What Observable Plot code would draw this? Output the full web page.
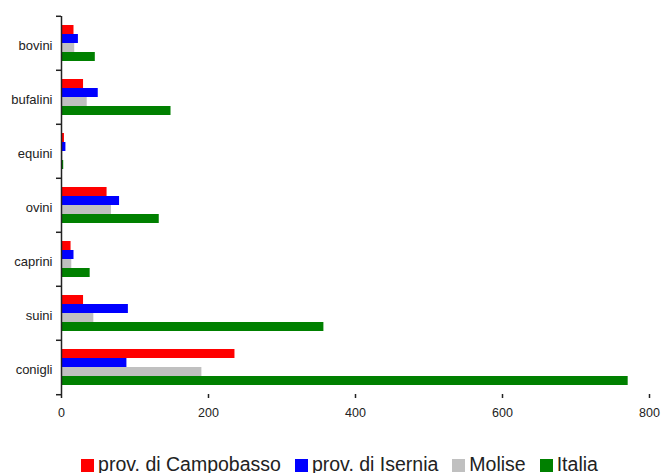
<!DOCTYPE html>
<html>
<head>
<meta charset="utf-8">
<script src="https://cdn.jsdelivr.net/npm/d3@7"></script>
<script src="https://cdn.jsdelivr.net/npm/@observablehq/plot@0.6"></script>
<style>
  html, body { margin: 0; padding: 0; background: #fff; }
  body { width: 663px; height: 473px; overflow: hidden; font-family: "Liberation Sans", Arial, sans-serif; }
  #chart svg { display: block; }
  #legend { display: flex; justify-content: center; align-items: center; padding-left: 16px; margin-top: 15px; height: 18px; font-size: 19.5px; color: #222; white-space: nowrap; }
  #legend .item { display: flex; align-items: center; margin: 0 7px; }
  #legend .sw { width: 13px; height: 13px; margin-right: 4px; margin-top: 3px; }
</style>
</head>
<body>
<div id="chart"></div>
<div id="legend"></div>
<script>
const categories = ["bovini", "bufalini", "equini", "ovini", "caprini", "suini", "conigli"];
const seriesNames = ["prov. di Campobasso", "prov. di Isernia", "Molise", "Italia"];
const seriesColors = ["#ff0000", "#0000ff", "#c0c0c0", "#008000"];
const campobasso = [17, 30, 4, 62, 13, 30, 236];
const isernia = [23, 50, 6, 79, 17, 91, 89];
const molise = [18, 35, 2, 68, 14, 44, 191];
const italia = [46, 149, 3, 133, 39, 357, 771];
const xTicks = [0, 200, 400, 600, 800];

const seriesValues = [campobasso, isernia, molise, italia];
const data = [];
categories.forEach((c, i) => {
  seriesNames.forEach((s, j) => data.push({category: c, series: s, value: seriesValues[j][i]}));
});

const W = 663, H = 440, mt = 14, mb = 45, ml = 61, mr = 14;
const step = (H - mt - mb) / categories.length;
const axisColor = "#222";

const chart = Plot.plot({
  width: W,
  height: H,
  marginTop: mt,
  marginBottom: mb,
  marginLeft: ml,
  marginRight: mr,
  style: {fontFamily: "'Liberation Sans', Arial, sans-serif", color: "#222", background: "#fff"},
  x: {domain: [0, 800], label: null},
  y: {domain: seriesNames, padding: 0, paddingOuter: 0.79, axis: null, label: null},
  fy: {domain: categories, padding: 0, axis: null, label: null},
  color: {domain: seriesNames, range: seriesColors},
  marks: [
    Plot.barX(data, {x: "value", y: "series", fy: "category", fill: "series"}),
    Plot.ruleX([0], {stroke: axisColor, strokeWidth: 1.5}),
    Plot.axisFy({anchor: "left", tickSize: 0, tickPadding: 9, fontSize: 13, dy: 2, label: null}),
    Plot.axisFy({anchor: "left", text: null, tickSize: 5, stroke: axisColor, strokeWidth: 1.5, dy: -step / 2, label: null}),
    Plot.axisFy({anchor: "left", ticks: [categories[categories.length - 1]], text: null, tickSize: 5, stroke: axisColor, strokeWidth: 1.5, dy: step / 2, label: null}),
    Plot.axisX({anchor: "bottom", ticks: xTicks, tickSize: 4, tickPadding: 10, fontSize: 12.5, stroke: axisColor, strokeWidth: 1.5, line: true, label: null})
  ]
});
document.getElementById("chart").appendChild(chart);

const legend = document.getElementById("legend");
seriesNames.forEach((s, j) => {
  const item = document.createElement("div");
  item.className = "item";
  const sw = document.createElement("span");
  sw.className = "sw";
  sw.style.background = seriesColors[j];
  const t = document.createElement("span");
  t.textContent = s;
  item.appendChild(sw);
  item.appendChild(t);
  legend.appendChild(item);
});
</script>
</body>
</html>
